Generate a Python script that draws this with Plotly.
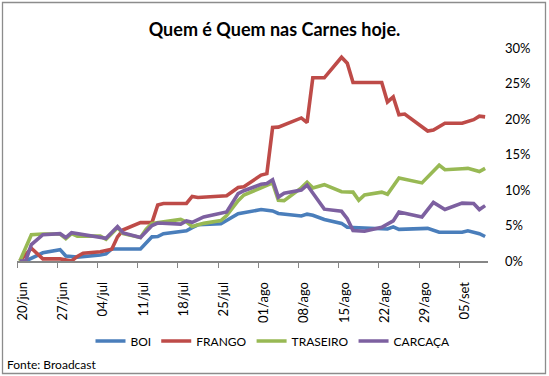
import plotly.graph_objects as go
import pandas as pd

# ---------------- data ----------------
tick_labels = ["20/jun", "27/jun", "04/jul", "11/jul", "18/jul", "25/jul",
               "01/ago", "08/ago", "15/ago", "22/ago", "29/ago", "05/set"]
tick_dates = ["2011-06-20", "2011-06-27", "2011-07-04", "2011-07-11", "2011-07-18", "2011-07-25",
              "2011-08-01", "2011-08-08", "2011-08-15", "2011-08-22", "2011-08-29", "2011-09-05"]

boi_dates = ["2011-06-20", "2011-06-21", "2011-06-24", "2011-06-27", "2011-06-28", "2011-06-30",
             "2011-07-04", "2011-07-05", "2011-07-06", "2011-07-11", "2011-07-13", "2011-07-14",
             "2011-07-15", "2011-07-19", "2011-07-20", "2011-07-21", "2011-07-25", "2011-07-27",
             "2011-07-28", "2011-08-01", "2011-08-03", "2011-08-04", "2011-08-08", "2011-08-09",
             "2011-08-10", "2011-08-12", "2011-08-15", "2011-08-16", "2011-08-18", "2011-08-23",
             "2011-08-24", "2011-08-25", "2011-08-30", "2011-09-01", "2011-09-05", "2011-09-06",
             "2011-09-08", "2011-09-09"]
boi_values = [0.0, 0.0, 1.15, 1.6, 0.7, 0.55,
              0.85, 1.0, 1.7, 1.7, 3.4, 3.45,
              3.85, 4.25, 4.7, 5.1, 5.25, 6.1,
              6.65, 7.25, 7.05, 6.7, 6.35, 6.6,
              6.45, 5.85, 5.3, 4.75, 4.7, 4.5,
              4.8, 4.45, 4.6, 4.05, 4.05, 4.25,
              3.85, 3.45]

frango_dates = ["2011-06-20", "2011-06-22", "2011-06-24", "2011-06-27", "2011-06-29", "2011-06-30",
                "2011-07-01", "2011-07-04", "2011-07-06", "2011-07-07", "2011-07-08", "2011-07-11",
                "2011-07-13", "2011-07-14", "2011-07-15", "2011-07-19", "2011-07-20", "2011-07-21",
                "2011-07-26", "2011-07-28", "2011-07-29", "2011-08-01", "2011-08-02", "2011-08-03",
                "2011-08-04", "2011-08-08", "2011-08-09", "2011-08-10", "2011-08-12", "2011-08-15",
                "2011-08-16", "2011-08-17", "2011-08-22", "2011-08-23", "2011-08-24", "2011-08-25",
                "2011-08-26", "2011-08-30", "2011-08-31", "2011-09-02", "2011-09-05", "2011-09-07",
                "2011-09-08", "2011-09-09"]
frango_values = [0.0, 1.8, 0.3, 0.3, 0.0, 0.65,
                 1.1, 1.3, 1.65, 3.4, 4.4, 5.4,
                 5.4, 7.9, 8.1, 8.1, 9.1, 8.95,
                 9.2, 10.35, 10.45, 12.1, 12.3, 18.8,
                 18.85, 20.15, 19.5, 25.8, 25.8, 28.7,
                 27.85, 25.15, 25.15, 22.4, 23.1, 20.6,
                 20.7, 18.3, 18.45, 19.4, 19.4, 19.9,
                 20.4, 20.3]

traseiro_dates = ["2011-06-20", "2011-06-22", "2011-06-24", "2011-06-27", "2011-06-28", "2011-06-29",
                  "2011-06-30", "2011-07-04", "2011-07-05", "2011-07-07", "2011-07-08", "2011-07-11",
                  "2011-07-12", "2011-07-13", "2011-07-18", "2011-07-19", "2011-07-20", "2011-07-22",
                  "2011-07-25", "2011-07-26", "2011-07-28", "2011-07-29", "2011-08-01", "2011-08-02",
                  "2011-08-03", "2011-08-04", "2011-08-05", "2011-08-08", "2011-08-09", "2011-08-10",
                  "2011-08-12", "2011-08-15", "2011-08-17", "2011-08-18", "2011-08-19", "2011-08-22",
                  "2011-08-23", "2011-08-25", "2011-08-29", "2011-09-01", "2011-09-02", "2011-09-05",
                  "2011-09-06", "2011-09-08", "2011-09-09"]
traseiro_values = [0.0, 3.7, 3.8, 3.8, 3.15, 3.85,
                   3.5, 3.5, 3.05, 4.7, 3.85, 3.3,
                   4.5, 5.3, 5.85, 5.5, 4.85, 5.3,
                   5.7, 6.4, 8.5, 9.3, 10.3, 10.7,
                   11.0, 8.55, 8.5, 10.3, 11.1, 10.3,
                   10.75, 9.75, 9.7, 8.55, 9.3, 9.7,
                   9.4, 11.7, 11.0, 13.5, 12.85, 13.0,
                   13.05, 12.6, 13.05]

carcaca_dates = ["2011-06-20", "2011-06-21", "2011-06-22", "2011-06-24", "2011-06-27", "2011-06-28",
                 "2011-06-29", "2011-07-04", "2011-07-05", "2011-07-07", "2011-07-08", "2011-07-11",
                 "2011-07-13", "2011-07-14", "2011-07-18", "2011-07-19", "2011-07-20", "2011-07-22",
                 "2011-07-25", "2011-07-26", "2011-07-28", "2011-07-29", "2011-08-01", "2011-08-02",
                 "2011-08-03", "2011-08-04", "2011-08-05", "2011-08-08", "2011-08-09", "2011-08-12",
                 "2011-08-15", "2011-08-16", "2011-08-17", "2011-08-19", "2011-08-22", "2011-08-24",
                 "2011-08-25", "2011-08-29", "2011-08-31", "2011-09-02", "2011-09-05", "2011-09-07",
                 "2011-09-08", "2011-09-09"]
carcaca_values = [0.0, 0.0, 2.3, 3.7, 3.85, 3.3,
                  4.0, 3.4, 3.2, 4.85, 3.95, 3.3,
                  5.0, 5.35, 5.2, 5.65, 5.45, 6.2,
                  6.75, 6.9, 9.5, 9.9, 10.8, 10.9,
                  11.45, 9.0, 9.55, 10.0, 10.7, 7.3,
                  7.0, 5.95, 4.3, 4.2, 4.75, 5.65,
                  6.9, 6.2, 8.25, 7.25, 8.15, 8.1,
                  7.25, 7.8]

series_names = ["BOI", "FRANGO", "TRASEIRO", "CARCAÇA"]
series_colors = ["#4A7EBB", "#BE4B48", "#98B954", "#7D60A0"]

# ---------------- figure ----------------
W, H = 549, 376
ML, MR, MT, MB = 17, 61, 48, 115
PW, PH = W - ML - MR, H - MT - MB


def pxx(px):
    return (px - ML) / PW


def pxy(py):
    return (H - MB - py) / PH


FONT = "Lato, 'Open Sans', sans-serif"
half_day = pd.Timedelta(hours=12)

fig = go.Figure()
all_series = [(boi_dates, boi_values), (frango_dates, frango_values),
              (traseiro_dates, traseiro_values), (carcaca_dates, carcaca_values)]
for (d, v), name, color in zip(all_series, series_names, series_colors):
    fig.add_trace(go.Scatter(
        x=pd.to_datetime(d), y=v, mode="lines", name=name,
        line=dict(color=color, width=3.6),
        hoverinfo="skip",
    ))

x_start = pd.Timestamp(boi_dates[0]) - half_day
x_end = pd.Timestamp(boi_dates[-1]) + half_day

fig.update_layout(
    width=W, height=H,
    margin=dict(l=ML, r=MR, t=MT, b=MB, pad=0, autoexpand=False),
    paper_bgcolor="white", plot_bgcolor="white",
    font=dict(family=FONT, color="black"),
    title=dict(text="Quem é Quem nas Carnes hoje.", x=0.5, xref="container", xanchor="center",
               y=1 - 30 / H, yref="container", yanchor="middle",
               font=dict(family=FONT, size=18, color="black", weight="bold")),
    showlegend=True,
    legend=dict(orientation="h", x=pxx(273), xanchor="center", y=pxy(341), yanchor="middle",
                font=dict(family=FONT, size=12, color="black"), itemwidth=30,
                bgcolor="rgba(0,0,0,0)", tracegroupgap=0),
    xaxis=dict(
        type="date", range=[x_start, x_end],
        tickmode="array",
        tickvals=[pd.Timestamp(t) + half_day for t in tick_dates],
        ticktext=tick_labels, tickangle=-90, ticks="",
        tickfont=dict(family=FONT, size=13, color="black"),
        ticklabelstandoff=14,
        minor=dict(ticks="outside", tick0=x_start, dtick=7 * 86400000, ticklen=5,
                   tickcolor="#868686", tickwidth=1.3, showgrid=False),
        showline=True, linecolor="#868686", linewidth=1.6,
        showgrid=False, zeroline=False, fixedrange=True,
    ),
    yaxis=dict(
        side="right", range=[0, 30], tickmode="array", tickvals=[0, 5, 10, 15, 20, 25, 30],
        ticktext=["0%", "5%", "10%", "15%", "20%", "25%", "30%"],
        ticks="", showline=False, showgrid=False, zeroline=False,
        tickfont=dict(family=FONT, size=13, color="black"),
        ticklabelstandoff=16, fixedrange=True,
    ),
    annotations=[dict(text="Fonte: Broadcast", xref="paper", yref="paper",
                      x=pxx(5), y=pxy(364), xanchor="left", yanchor="middle", showarrow=False,
                      font=dict(family=FONT, size=12, color="black"))],
    shapes=[dict(type="rect", xref="paper", yref="paper",
                 x0=pxx(2.5), x1=pxx(545.5), y0=pxy(373.5), y1=pxy(2.5),
                 line=dict(color="#8c8c8c", width=1.3), fillcolor="rgba(0,0,0,0)", layer="below")],
)

fig.write_html(
    "out.html",
    config={"displayModeBar": False},
    post_script="document.body.style.margin='0';document.body.style.padding='0';"
                "document.documentElement.style.overflow='hidden';",
)
